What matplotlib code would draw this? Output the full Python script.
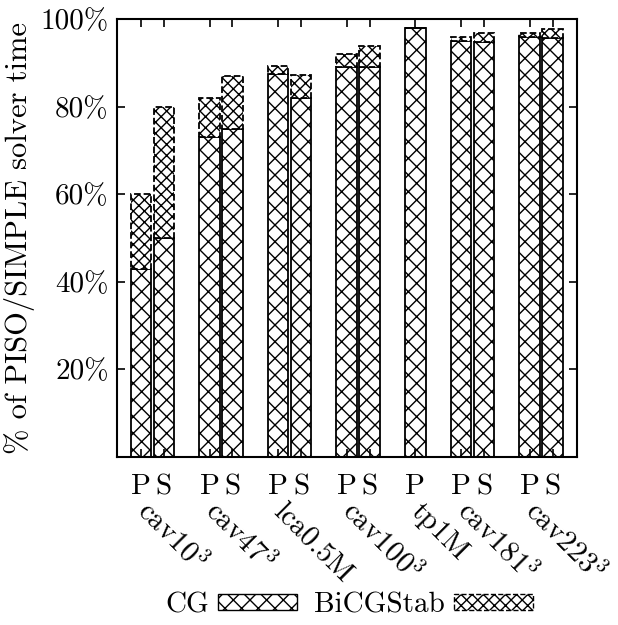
import numpy as np
import matplotlib
matplotlib.use("Agg")
import matplotlib.pyplot as plt
from matplotlib.patches import Patch

plt.rcParams['font.family'] = ['cmr10', 'DejaVu Serif']
plt.rcParams['mathtext.fontset'] = 'cm'
plt.rcParams['axes.unicode_minus'] = False
plt.rcParams['hatch.linewidth'] = 1.0

categories = ['cav10$^3$', 'cav47$^3$', 'lca0.5M', 'cav100$^3$', 'tp1M', 'cav181$^3$', 'cav223$^3$']
piso_cg = [43, 73, 87.5, 89, 98, 95, 96]
piso_bicg = [17, 9, 1.8, 3, 0, 1, 0.9]
simple_cg = [50, 75, 82, 89, None, 94.7, 95.7]
simple_bicg = [30, 12, 5.3, 4.9, None, 2, 2]
yticks = [20, 40, 60, 80, 100]

fig = plt.figure(figsize=(6.18, 6.25), dpi=100)
ax = fig.add_axes([117/618, 1-457/625, 460/618, 438/625])

positions, labels, cgv, bicgv, group_start = [], [], [], [], []
pos = 0
for i, cat in enumerate(categories):
    group_start.append(pos)
    for lab, cg, bi in (('P', piso_cg[i], piso_bicg[i]), ('S', simple_cg[i], simple_bicg[i])):
        if cg is None:
            continue
        positions.append(pos); labels.append(lab); cgv.append(cg); bicgv.append(bi)
        pos += 1
    pos += 1

w = 0.9
ax.bar(positions, cgv, width=w, facecolor='white', edgecolor='black', hatch='xx', linewidth=1.3)
ax.bar(positions, bicgv, bottom=cgv, width=w, facecolor='white', edgecolor='black',
       hatch='xxx', linewidth=1.3, linestyle='--')

ax.set_xlim(-1.05, 19.07)
ax.set_ylim(0, 100)
ax.set_xticks(positions)
ax.set_xticklabels(labels, fontsize=21)
ax.set_yticks(yticks)
ax.set_yticklabels([f'{v}%' for v in yticks], fontsize=21)
ax.tick_params(axis='both', direction='in', length=6, width=1.2, top=True, right=True)
ax.tick_params(axis='x', pad=12)
ax.tick_params(axis='y', pad=6)
for s in ax.spines.values():
    s.set_linewidth(1.5)
ax.set_ylabel('% of PISO/SIMPLE solver time', fontsize=22, labelpad=4)

for i, cat in enumerate(categories):
    x = group_start[i]
    ax.annotate(cat, xy=(x, 0), xycoords=('data', 'axes fraction'),
                xytext=(-4, -40), textcoords='offset points',
                rotation=-45, rotation_mode='anchor', ha='left', va='baseline', fontsize=21)

handles = [Patch(facecolor='white', edgecolor='black', hatch='xx', linewidth=1.0),
           Patch(facecolor='white', edgecolor='black', hatch='xxx', linewidth=1.0, linestyle='--')]
fig.legend(handles, ['CG', 'BiCGStab'], loc='center', bbox_to_anchor=(0.565, 1-605/625),
           ncol=2, frameon=False, markerfirst=False, fontsize=21, handlelength=2.7,
           handleheight=0.5, columnspacing=0.6, handletextpad=0.3)

fig.savefig('out.png', dpi=100)
